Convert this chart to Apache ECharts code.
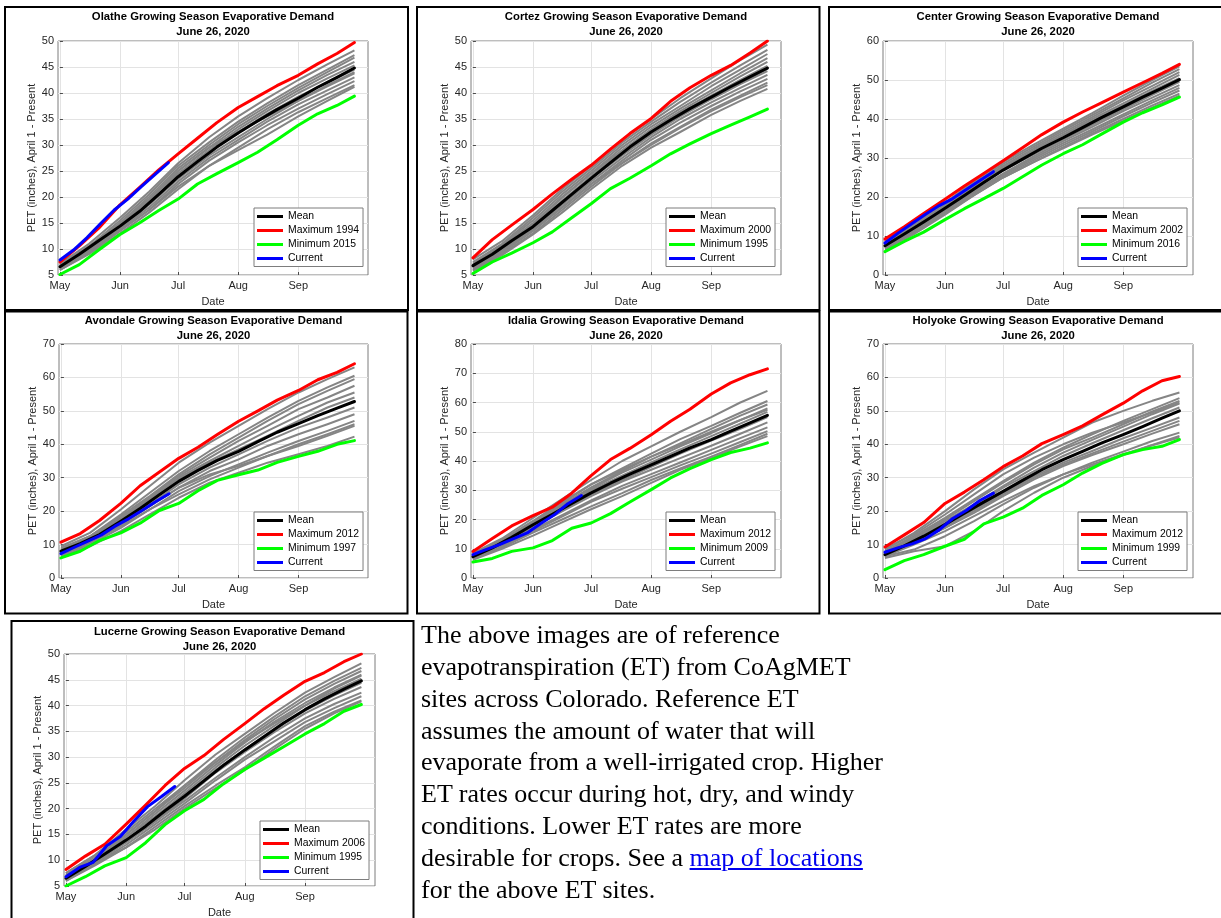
<!DOCTYPE html>
<html><head><meta charset="utf-8">
<script src="https://cdn.jsdelivr.net/npm/echarts@6/dist/echarts.min.js"></script>
<style>
html,body{margin:0;padding:0;background:#fff;}
#chart{position:absolute;left:0;top:0;width:1221px;height:918px;}
#para{position:absolute;left:421px;top:619.3px;font-family:"Liberation Serif","Times New Roman",serif;font-size:26px;line-height:31.8px;color:#000;white-space:nowrap;}
#para a{color:#0000ee;text-decoration:underline;}
</style></head><body>
<div id="chart"></div>
<div id="para">The above images are of reference<br>evapotranspiration (ET) from CoAgMET<br>sites across Colorado. Reference ET<br>assumes the amount of water that will<br>evaporate from a well-irrigated crop. Higher<br>ET rates occur during hot, dry, and windy<br>conditions. Lower ET rates are more<br>desirable for crops. See a <a href="#">map of locations</a><br>for the above ET sites.</div>
<script>
// ---- day offsets from May 1 ----
const DAYS = [0,10,20,31,41,51,61,71,81,92,102,112,123,133,143,152];
const CURRENT_DAYS = [0,7,14,21,28,35,42,49,56];
const GRAY_DAYS = [0,15,31,46,61,77,92,107,123,138,152];
const MONTH_TICKS = [0,31,61,92,123];
const MONTH_LABELS = ['May','Jun','Jul','Aug','Sep'];
const SITES = ['Olathe','Cortez','Center','Avondale','Idalia','Holyoke','Lucerne'];
const MAX_YEARS = ['1994','2000','2002','2012','2012','2012','2006'];
const MIN_YEARS = ['2015','1995','2016','1997','2009','1999','1995'];
const Y_MIN = [5,5,0,0,0,0,5];
const Y_MAX = [50,50,60,70,80,70,50];
const Y_STEP = [5,5,10,10,10,10,5];

// ---- Olathe ----
const olatheMean = [6.6,9.0,11.6,14.4,17.2,20.5,23.9,26.8,29.6,32.3,34.6,36.8,39.0,41.1,43.0,44.8];
const olatheMax = [7.5,10.6,14.0,18.5,21.8,25.2,28.3,31.3,34.3,37.2,39.3,41.4,43.4,45.6,47.6,49.7];
const olatheMin = [5.1,7.0,9.8,12.8,15.0,17.4,19.6,22.5,24.5,26.6,28.6,31.0,33.8,36.0,37.6,39.4];
const olatheCurrent = [7.9,9.8,12.2,14.9,17.5,19.6,22.0,24.3,26.6];
const olatheGray = [
 [7.2,11,16,21,26.5,31.5,35.5,39,42.5,45.5,48.2],
 [7,10.5,15.5,20.5,26,30.5,34.5,38,41.5,44.5,47.3],
 [6.8,10.5,15,20,25.5,30,34,37.5,41,44,46.8],
 [6.5,10,15,19.5,25,29.5,33.5,37,40.5,43.5,46],
 [6.8,10.2,14.8,19.5,24.5,29,33,36.5,40,42.8,45.3],
 [6.3,9.8,14.2,19,24,28.5,32.5,36,39.3,42,44.5],
 [6.5,9.8,14,18.5,23.5,28,31.5,35,38.5,41.3,43.8],
 [6.2,9.5,13.8,18,23,27.5,31,34.5,37.8,40.5,43],
 [6,9.2,13.5,17.5,22.5,27,30.5,33.8,37,39.8,42.3],
 [6,9,13,17,21.5,26,29.5,33,36.3,39,41.5],
 [6.3,9.5,13.5,17.5,22,26,29,32,35.5,38.5,41.2],
 [6,9.5,14.5,19.5,25,29.5,32.5,35.5,38.5,41.5,44]
];
// ---- Cortez ----
const cortezMean = [6.8,9.0,11.6,14.3,17.4,20.5,23.6,26.6,29.6,32.5,34.8,37.0,39.2,41.2,43.1,44.8];
const cortezMax = [8.3,11.8,14.6,17.6,20.6,23.4,26.1,29.2,32.2,35.1,38.4,41.0,43.4,45.3,47.7,50.0];
const cortezMin = [5.3,7.5,9.2,11.2,13.3,16.0,18.7,21.6,23.6,26.0,28.3,30.2,32.2,33.8,35.4,36.9];
const cortezCurrent = [];
const cortezGray = [
 [8,11.5,16.5,21.5,26,31,35,39,42.8,46.3,49.3],
 [7.5,11,16,21,25.5,30.5,34.5,38.3,42,45.3,48.3],
 [7.2,10.8,15.5,20.5,25,30,34,37.5,41.3,44.5,47.5],
 [7,10.5,15,20,24.5,29.5,33.5,37,40.5,43.8,46.7],
 [6.8,10.3,14.8,19.8,24.5,29,33,36.5,40,43.2,46],
 [6.5,10,14.5,19.3,24,28.8,32.8,36.2,39.5,42.5,45.2],
 [6.5,9.8,14,18.8,23.5,28,32,35.5,38.8,41.7,44.2],
 [6.2,9.5,13.8,18.5,23,27.5,31.5,35,38.2,41,43.5],
 [6,9.3,13.5,18,22.5,27,31,34.3,37.5,40.3,42.7],
 [6.3,9.5,13.5,18,22.5,26.5,30.3,33.5,36.8,39.5,42],
 [6,9,13,17.5,22,26.5,30,33.3,36.5,39.2,41.5],
 [5.8,8.8,12.8,17,21.5,26,29.5,32.5,35.8,38.5,40.8]
];
// ---- Center ----
const centerMean = [7.5,10.5,13.6,17.1,20.4,23.7,26.9,29.7,32.5,35.2,37.8,40.4,43.1,45.6,47.9,50.1];
const centerMax = [9.2,12.4,15.8,19.4,22.8,26.0,29.3,32.6,36.0,39.2,41.8,44.2,46.9,49.3,51.7,54.0];
const centerMin = [6.0,8.6,11.0,14.2,17.0,19.6,22.2,25.2,28.2,31.1,33.4,36.2,39.2,41.6,43.6,45.6];
const centerCurrent = [8.2,10.8,13.2,15.6,17.8,19.6,21.9,24.2,26.5];
const centerGray = [
 [8.5,13,18.5,24,29,33.5,37.5,41.5,46,50,53.5],
 [8,12.5,18,23.5,28.5,33,37,41,45.3,49.3,52.8],
 [8.2,12.5,18,23,28,32.5,36.5,40.5,44.8,48.5,52],
 [7.8,12,17.5,22.8,27.5,32,36,40,44,47.8,51.3],
 [7.5,12,17.5,22.5,27.5,32,35.8,39.5,43.5,47.2,50.5],
 [7.2,11.5,16.8,22,26.8,31,34.8,38.5,42.5,46.2,49.5],
 [7,11.2,16.5,21.5,26,30.5,34.3,38,42,45.5,48.7],
 [7.5,11.5,16.5,21.3,25.8,30,33.8,37.3,41.2,44.8,48],
 [7,11,16,21,25.5,29.5,33.3,36.8,40.7,44.2,47.3],
 [6.8,10.8,15.8,20.5,25,29,32.8,36.3,40,43.5,46.5],
 [6.5,10.5,15.5,20.5,25,29,32.5,36,39.5,43,46],
 [8,12.3,17.8,22.8,27.5,31.5,35.3,39,43,46.5,50]
];
// ---- Avondale ----
const avondaleMean = [8.0,10.3,13.0,17.0,20.8,24.9,28.9,32.2,35.2,37.9,40.8,43.6,46.2,48.6,50.8,52.8];
const avondaleMax = [10.7,13.3,17.2,22.3,27.6,31.7,35.8,39.1,42.9,46.9,50.0,53.2,56.1,59.3,61.5,64.1];
const avondaleMin = [6.0,8.0,11.2,13.5,16.4,20.2,22.3,26.1,29.2,30.9,32.3,34.6,36.4,37.9,40.0,41.1];
const avondaleCurrent = [7.3,9.2,11.0,12.9,15.5,17.7,20.2,22.8,25.2];
const avondaleGray = [
 [9.5,13.5,20.5,27.5,34.5,40.5,45.5,50.5,55.5,59.5,63.0],
 [9,12.5,19,25.5,32,38,43,48,53,57,60.5],
 [8.5,12.5,18.5,24.5,31,37,42,47,52,56,59.5],
 [8.5,12,18,24,30.5,36,41,45.5,50.5,54,57.5],
 [8,12,17.5,23.5,30,35,39.5,44,48.5,52.5,55.5],
 [7.5,11,17,23.5,29.5,34.5,38.5,42.5,47,51,54],
 [8,11.5,16.5,22,28,33,37,41,45,48,51],
 [7.5,11,16,21.5,27,32,35.5,39.5,43,46,49],
 [7,10.5,15.5,20.5,26,30.5,34,37.5,41,44,47],
 [7,10,15,20.5,25,29.5,33,36.5,40,43,46],
 [7.5,11,16,21.5,27,31,33.5,36.5,39.5,42.5,45.5],
 [6.5,9.5,14,19,24,28.5,31.5,34.5,37,39.5,42.3]
];
// ---- Idalia ----
const idaliaMean = [7.3,10.3,13.9,18.2,21.8,25.5,29.1,32.4,35.5,38.7,41.6,44.5,47.3,50.2,53.0,55.6];
const idaliaMax = [9.1,13.5,17.8,21.3,24.2,29.0,35.0,40.5,44.3,49.0,53.6,57.7,62.9,66.7,69.5,71.5];
const idaliaMin = [5.5,6.7,9.1,10.3,12.8,17.0,18.8,22.0,26.0,30.2,34.2,37.4,40.5,42.9,44.4,46.2];
const idaliaCurrent = [8.0,9.8,11.5,13.5,15.4,18.6,21.6,25.4,28.2];
const idaliaGray = [
 [8.5,13.5,20.5,27,33.5,40,45,50,55,60,64],
 [8,13,19.5,26,32,37.5,42.5,47.5,52,56.5,60.5],
 [8,12.5,19,25,31,36.5,41.5,46,51,55.5,59.3],
 [7.5,12,18.5,24.5,30.5,36,40.5,45,49.5,54,58],
 [7.5,12,18.5,24,30,35,39.5,44,48.5,52.8,56.8],
 [7,11.5,17.5,23,28.5,33.5,38,42.5,47,51,55],
 [7.3,11.5,17.5,22.8,28,33,37,41,45.2,49.3,53.2],
 [6.8,11,16.5,21.5,26.5,31.5,35.5,39.5,43.8,47.8,51.5],
 [6.5,10.5,16,21,26,30.5,34.5,38.5,42.5,46.5,50.2],
 [6.5,10.5,15.5,20,24.5,29,33.5,37.5,41.5,45.5,49.3],
 [6.2,10,14.5,19,23.5,28,32.5,37,41,45,48.5],
 [7.8,12.5,19,25.5,32,37,41.5,45.5,50,54,57.5]
];
// ---- Holyoke ----
const holyokeMean = [7.0,9.6,12.5,16.0,19.4,22.7,25.9,29.2,32.4,35.4,37.9,40.4,42.9,45.3,47.8,50.0];
const holyokeMax = [9.3,12.9,16.6,22.3,25.7,29.4,33.3,36.5,40.2,42.9,45.5,48.8,52.3,56.0,59.0,60.3];
const holyokeMin = [2.5,5.2,7.0,9.5,11.6,16.2,18.2,20.9,24.7,27.9,31.4,34.3,36.9,38.4,39.4,41.4];
const holyokeCurrent = [7.7,9.1,10.2,11.8,14.4,17.8,20.2,23.2,25.4];
const holyokeGray = [
 [8.5,13.5,20,26.5,32.5,37.5,42,46.5,50,53,55.5],
 [8,12.5,18,23.5,29,34.5,39,43,47,50.5,53.8],
 [7.5,12,17.5,23,28.5,34,38.5,42,46,49.8,53],
 [7.5,12,17,22,27.5,33,37.5,41.3,45.3,49,52.2],
 [7,11.5,16.5,21.5,27,32,36.5,40.3,44.2,47.8,51],
 [7,11,15.5,20.5,25.5,30.5,34.5,38,41.8,45,48],
 [6.5,10.5,15,20,25,30,34,37.3,40.8,44,47],
 [7,10.5,15,19.5,24.5,29.5,33.5,36.8,40,43.2,46],
 [6.5,8.5,12.5,17,22,27,31,34.5,37.8,41,43.5],
 [6,8,9.5,14,20,25.5,30,33.5,36.8,39.8,42.5],
 [6.5,10,14,18.5,23,27.5,31,34,37,39.7,42],
 [8.8,13,19,25,31,36,40,43.5,46.5,49.5,52.5]
];
// ---- Lucerne ----
const lucerneMean = [6.5,8.8,11.2,13.9,16.6,19.6,22.4,25.4,28.4,31.4,34.0,36.6,39.2,41.3,43.2,44.8];
const lucerneMax = [8.2,10.8,13.1,17.0,20.7,24.5,27.8,30.3,33.4,36.5,39.4,42.0,44.7,46.4,48.5,50.0];
const lucerneMin = [5.0,6.8,8.9,10.5,13.4,16.9,19.6,21.8,24.8,27.6,29.8,32.0,34.5,36.5,38.9,40.2];
const lucerneCurrent = [6.8,8.6,9.6,12.8,14.6,17.6,20.4,22.3,24.3];
const lucerneGray = [
 [7.5,11,16,20.5,25.5,30.5,34.5,38.5,42.5,45.5,48.2],
 [7.2,10.5,15,19.5,24.5,29.5,33.8,37.8,41.8,44.8,47.3],
 [7,10.3,15,19.5,24,29,33.3,37.3,41.2,44.2,46.7],
 [7,10.5,14.5,19,23.5,28.5,32.8,36.8,40.5,43.5,46],
 [6.8,10,14.5,18.5,23,28,32.2,36,40,42.8,45.2],
 [6.5,9.8,14,18,22.5,27.5,31.5,35.3,39,42,44.4],
 [6.3,9.5,13.5,17.5,22,27,31,34.8,38.5,41.3,43.6],
 [6.5,9.8,13.5,17.5,21.5,26,30,33.8,37.5,40.3,42.5],
 [6,9.3,13,17,21,25.5,29.5,33,36.8,39.5,41.8],
 [6.2,9.3,12.5,16.5,20.5,24.5,28,32,36,38.8,41],
 [6,9,12.5,16,20,24,27.5,31.5,35.5,38.5,40.8],
 [7.5,11,15.5,20,24.5,29,33,36.5,40,43.3,45.8]
];

const MEANS = [olatheMean,cortezMean,centerMean,avondaleMean,idaliaMean,holyokeMean,lucerneMean];
const MAXES = [olatheMax,cortezMax,centerMax,avondaleMax,idaliaMax,holyokeMax,lucerneMax];
const MINS = [olatheMin,cortezMin,centerMin,avondaleMin,idaliaMin,holyokeMin,lucerneMin];
const CURRENTS = [olatheCurrent,cortezCurrent,centerCurrent,avondaleCurrent,idaliaCurrent,holyokeCurrent,lucerneCurrent];
const GRAYS = [olatheGray,cortezGray,centerGray,avondaleGray,idaliaGray,holyokeGray,lucerneGray];

// ---- layout (pixels) ----
const LAYOUT = [
 {grid:[58,41,310,234], box:[5,7,403,303], legend:[254,208], titleY:9.8},
 {grid:[471,41,310,234], box:[417,7,402.5,303], legend:[666,208], titleY:9.8},
 {grid:[883,41,310,234], box:[829,7,400,303], legend:[1078,208], titleY:9.8},
 {grid:[59,344,309,234], box:[5,311.5,402.5,302], legend:[254,512], titleY:313.5},
 {grid:[471,344,310,234], box:[417,311.5,402.5,302], legend:[666,512], titleY:313.5},
 {grid:[883,344,310,234], box:[829,311.5,400,302], legend:[1078,512], titleY:313.5},
 {grid:[64,654,311,232], box:[11.5,621,402,310], legend:[260,821], titleY:624.2}
];

const FONT = '"Liberation Sans", Arial, Helvetica, sans-serif';
const AXIS_COLOR = '#262626';
const BOX_COLOR = '#7d7d7d';
const GRID_COLOR = '#e3e3e3';

const pairs = (days, vals) => vals.map((v, k) => [days[k], v]);

const grids = [], xAxes = [], yAxes = [], legends = [], series = [], graphics = [];
SITES.forEach((site, i) => {
  const L = LAYOUT[i];
  grids.push({left:L.grid[0], top:L.grid[1], width:L.grid[2], height:L.grid[3], show:true,
    borderColor:BOX_COLOR, borderWidth:1, backgroundColor:'transparent', outerBoundsMode:'none', containLabel:false});
  xAxes.push({type:'value', gridIndex:i, min:-1, max:159,
    name:'Date', nameLocation:'middle', nameGap:21, nameMoveOverlap:false,
    nameTextStyle:{color:AXIS_COLOR, fontSize:11, fontFamily:FONT},
    axisLine:{show:false},
    axisTick:{show:true, inside:true, length:3, customValues:MONTH_TICKS, lineStyle:{color:AXIS_COLOR, width:0.8}},
    axisLabel:{customValues:MONTH_TICKS, margin:5, color:AXIS_COLOR, fontSize:11, fontFamily:FONT,
      formatter:v => MONTH_LABELS[MONTH_TICKS.indexOf(v)] || ''},
    splitLine:{show:true, lineStyle:{color:GRID_COLOR, width:1}}
  });
  yAxes.push({type:'value', gridIndex:i, min:Y_MIN[i], max:Y_MAX[i], interval:Y_STEP[i],
    name:'PET (inches), April 1 - Present', nameLocation:'middle', nameGap:21, nameRotate:90, nameMoveOverlap:false,
    nameTextStyle:{color:AXIS_COLOR, fontSize:11, fontFamily:FONT},
    axisLine:{show:false},
    axisTick:{show:true, inside:true, length:3, lineStyle:{color:AXIS_COLOR, width:0.8}},
    axisLabel:{margin:4, color:AXIS_COLOR, fontSize:11, fontFamily:FONT},
    splitLine:{show:true, lineStyle:{color:GRID_COLOR, width:1}}
  });
  const maxName = 'Maximum ' + MAX_YEARS[i];
  const minName = 'Minimum ' + MIN_YEARS[i];
  legends.push({orient:'vertical', left:L.legend[0], top:L.legend[1],
    data:['Mean', maxName, minName, 'Current'], icon:'rect', itemWidth:26, itemHeight:3, itemGap:0,
    padding:[1.5,4,1,3], borderColor:BOX_COLOR, borderWidth:1, backgroundColor:'#fff', selectedMode:false,
    textStyle:{color:'#000', fontSize:10.4, lineHeight:14, fontFamily:FONT}});
  GRAYS[i].forEach((g, k) => series.push({type:'line', name:site+' year '+(k+1), xAxisIndex:i, yAxisIndex:i,
    data:pairs(GRAY_DAYS, g), showSymbol:false, silent:true, color:'#808080',
    lineStyle:{color:'#858585', width:2, join:'round'}}));
  const main = [['Mean', MEANS[i], DAYS, '#000000'], [maxName, MAXES[i], DAYS, '#ff0000'],
                [minName, MINS[i], DAYS, '#00ff00'], ['Current', CURRENTS[i], CURRENT_DAYS, '#0000ff']];
  main.forEach(([nm, vals, days, col]) => series.push({type:'line', name:nm, xAxisIndex:i, yAxisIndex:i,
    data:pairs(days, vals), showSymbol:false, silent:true, color:col,
    lineStyle:{color:col, width:3, join:'round', cap:'round'}}));
  graphics.push({type:'rect', silent:true, shape:{x:L.box[0], y:L.box[1], width:L.box[2], height:L.box[3]},
    style:{fill:'none', stroke:'#000', lineWidth:2}});
  graphics.push({type:'text', silent:true, x:L.grid[0] + L.grid[2]/2, y:L.titleY,
    style:{text:site + ' Growing Season Evaporative Demand\nJune 26, 2020', fill:'#000',
      font:'bold 11.3px ' + FONT, align:'center', verticalAlign:'top', lineHeight:15}});
});

const chart = echarts.init(document.getElementById('chart'), null, {renderer:'canvas'});
chart.setOption({animation:false, backgroundColor:'#fff', grid:grids, xAxis:xAxes, yAxis:yAxes,
  legend:legends, series:series, graphic:graphics});
</script>
</body></html>
